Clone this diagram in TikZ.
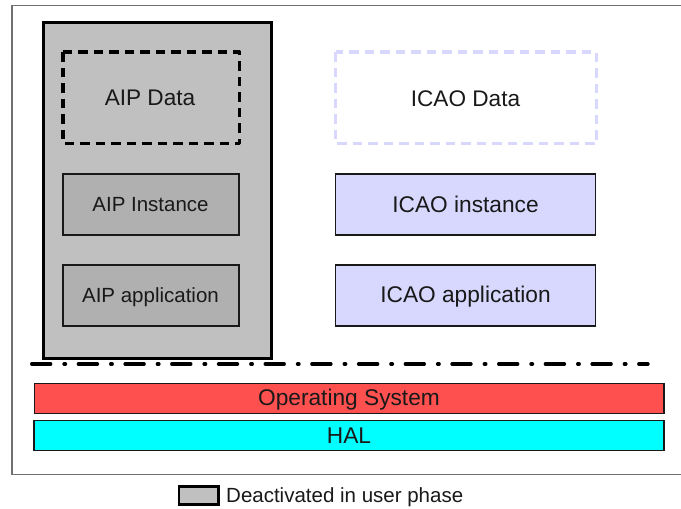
\documentclass[tikz,border=0pt]{standalone}
\usepackage{fontspec}
\setmainfont{Liberation Sans}
\definecolor{grayfill}{HTML}{C0C0C0}
\definecolor{darkfill}{HTML}{B0B0B0}
\definecolor{icaofill}{HTML}{D8D8FF}
\definecolor{osfill}{HTML}{FF5050}
\definecolor{halfill}{HTML}{00FFFF}
\definecolor{framegray}{HTML}{707070}
\tikzset{
  px/.style={x=1pt,y=-1pt},
  lab/.style={font=\fontsize{#1}{#1}\selectfont,text=black!90,inner sep=0pt},
  solidbox/.style={draw=black!90,line width=1.3pt,line join=miter},
  dashbox/.style={line width=3.2pt,dash pattern=on 9.5pt off 6pt,line join=round},
}
\begin{document}
\begin{tikzpicture}[px]
\useasboundingbox (0,0) rectangle (681,509);
\begin{scope}
\clip (0,0) rectangle (681,509);
\draw[draw=framegray,line width=1.2pt] (12,5.5) rectangle (690,474.5);
\end{scope}
\draw[black,line width=3pt,fill=grayfill] (43.5,22) rectangle (271.5,358);
\draw[dashbox,black] (63,52) rectangle (239.5,143.5);
\node[lab=22.6] (aipdata) at (150,98) {AIP Data};
\draw[solidbox,fill=darkfill] (63,174) rectangle (239,235);
\node[lab=20.5] (aipinst) at (150.5,205) {AIP Instance};
\draw[solidbox,fill=darkfill] (63,265) rectangle (239,326);
\node[lab=20.5] (aipapp) at (150.5,297.5) {AIP application};
\draw[dashbox,icaofill] (335.5,52) rectangle (596.5,143.5);
\node[lab=22.6] (icaodata) at (465.5,98.5) {ICAO Data};
\draw[solidbox,fill=icaofill] (335.5,174) rectangle (595.5,235);
\node[lab=22.7] (icaoinst) at (465.5,204.5) {ICAO instance};
\draw[solidbox,fill=icaofill] (335.5,265) rectangle (595.5,326);
\node[lab=22.7] (icaoapp) at (465.5,296.5) {ICAO application};
\draw[black,line width=3.4pt,line cap=round,dash pattern=on 19pt off 13.3pt on 1.5pt off 12.9pt] (31.7,364) -- (648,364);
\draw[solidbox,fill=osfill] (34.5,383.5) rectangle (664,413.5);
\node[lab=22.7] (os) at (349,399.5) {Operating System};
\draw[solidbox,fill=halfill] (34,420.5) rectangle (664,450.5);
\node[lab=22.7] (hal) at (349,436) {HAL};
\draw[black,line width=2.6pt,fill=grayfill] (179,486.5) rectangle (218.5,504.5);
\node[lab=20.5,anchor=west] (legend) at (226,497) {Deactivated in user phase};
\end{tikzpicture}
\end{document}
